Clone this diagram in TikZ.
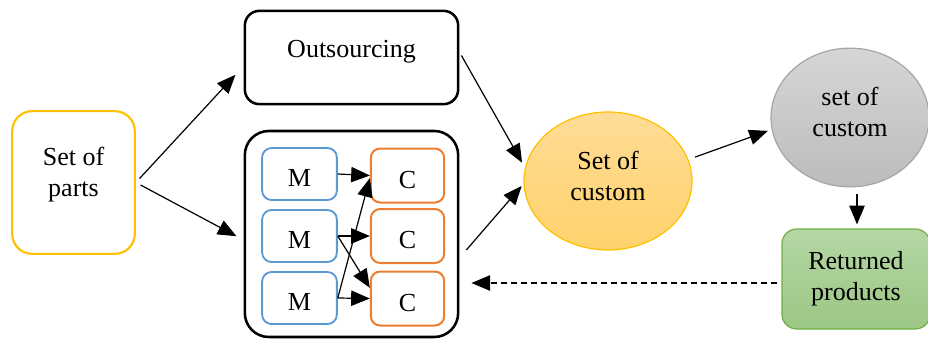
\documentclass[tikz,border=0pt]{standalone}
\usepackage{fontspec}
\setmainfont{Liberation Serif}
\usetikzlibrary{arrows.meta,shapes.geometric}
\definecolor{partsyel}{HTML}{FFC000}
\definecolor{mblue}{HTML}{5B9BD5}
\definecolor{corange}{HTML}{ED7D31}
\definecolor{retgreen}{HTML}{70AD47}
\definecolor{custtop}{HTML}{FFDC96}
\definecolor{custbot}{HTML}{FFD26C}
\definecolor{greytop}{HTML}{D6D6D6}
\definecolor{greybot}{HTML}{BCBCBC}
\definecolor{greentop}{HTML}{B4D6A4}
\definecolor{greenbot}{HTML}{9CC784}

\begin{document}
\begin{tikzpicture}[x=0.75pt,y=-0.75pt,
    font=\fontsize{19.5}{23}\selectfont,
    arr/.style={-{Triangle[length=14pt,width=11.5pt]},line width=0.9pt},
    mbox/.style={draw=mblue,line width=1.4pt,rounded corners=7pt,minimum width=56pt,minimum height=39pt,text height=19pt,text depth=0pt},
    cbox/.style={draw=corange,line width=1.5pt,rounded corners=7pt,minimum width=55pt,minimum height=40.5pt,text height=19pt,text depth=0pt}]
      \useasboundingbox (0,0) rectangle (928,339);
      % left and middle boxes
      \node[draw=partsyel,line width=1.6pt,rounded corners=15pt,minimum width=92pt,minimum height=107pt,align=center,text depth=16pt]
        (parts) at (73.5,182.5) {Set of\\parts};
      \node[draw,line width=1.9pt,rounded corners=11pt,minimum width=160pt,minimum height=70pt,text depth=12.5pt]
        (outs) at (351.5,57.5) {Outsourcing};
      \node[draw,line width=1.9pt,rounded corners=18pt,minimum width=160pt,minimum height=154.5pt]
        (plant) at (351.5,234) {};
      % machines and cells
      \node[mbox] (m1) at (299.5,174) {M};
      \node[mbox] (m2) at (299.5,236) {M};
      \node[mbox] (m3) at (299.5,298) {M};
      \node[cbox] (c1) at (407.5,175.5) {C};
      \node[cbox] (c2) at (407.5,236) {C};
      \node[cbox] (c3) at (407.5,298.5) {C};
      \draw[arr] (m1.east) -- (c1.west);
      \draw[arr] (m2.east) -- (c2.west);
      \draw[arr] (m2.east) -- ([yshift=8pt]c3.west);
      \draw[arr] (m3.east) -- (c3.west);
      \draw[arr] (m3.east) -- ([yshift=-2pt]c1.west);
      % right part
      \node[ellipse,draw=partsyel,line width=0.9pt,top color=custtop,bottom color=custbot,
        minimum width=126pt,minimum height=103.5pt,align=center,text depth=8pt] (cust) at (608,181) {Set of\\custom};
      \node[ellipse,draw=black!35,line width=0.9pt,top color=greytop,bottom color=greybot,
        minimum width=118.5pt,minimum height=104pt,align=center,text depth=8pt] (cust2) at (850,117.5) {set of\\custom};
      \node[draw=retgreen,line width=0.9pt,rounded corners=11pt,top color=greentop,bottom color=greenbot,
        minimum width=111pt,minimum height=75pt,align=center] (ret) at (856,279) {Returned\\products};
      % connectors
      \draw[arr,shorten <=4pt,shorten >=9pt] (parts.east) -- (outs.west |- 0,66);
      \draw[arr,shorten <=4pt,shorten >=6pt] (parts.east) -- (plant.west |- 0,240);
      \draw[arr,shorten <=3pt,shorten >=2pt] (outs.east |- 0,52) -- (cust.west |- 0,165);
      \draw[arr,shorten <=8pt,shorten >=2pt] (plant.east |- 0,258) -- (cust.west |- 0,184);
      \draw[arr,shorten <=2pt,shorten >=2pt] (cust.east |- 0,158) -- (cust2.west |- 0,130);
      \draw[arr,shorten <=5pt,shorten >=3pt] (cust2.south -| 857,0) -- (ret.north -| 857,0);
      \draw[arr,dash pattern=on 5pt off 2.5pt,shorten <=3pt,shorten >=9pt] (ret.west |- 0,283) -- (plant.east |- 0,283);
\end{tikzpicture}
\end{document}
